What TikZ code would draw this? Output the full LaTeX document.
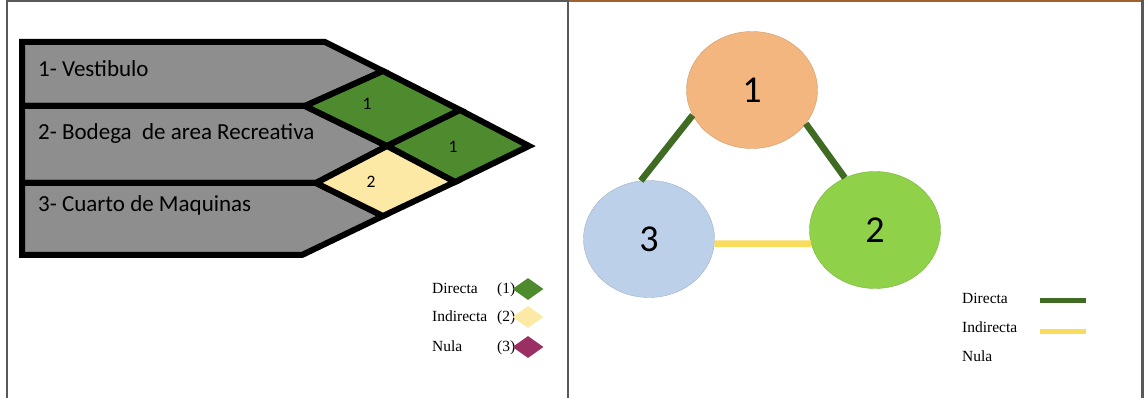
\documentclass[tikz,border=0pt]{standalone}
\usepackage{fontspec}
\setmainfont{Carlito}
\newfontfamily\legfont{Liberation Serif}
\usetikzlibrary{shapes.geometric}
\definecolor{rowgray}{HTML}{8E8E8E}
\definecolor{dgreen}{HTML}{4E8A2E}
\definecolor{lyellow}{HTML}{FDE9A6}
\definecolor{nulpurple}{HTML}{9B2E62}
\definecolor{edgegreen}{HTML}{3F6B22}
\definecolor{edgeyellow}{HTML}{F9DC5C}
\definecolor{corange}{HTML}{F4B67F}
\definecolor{cblue}{HTML}{BDD0EA}
\definecolor{cgreen}{HTML}{8FD24A}
\definecolor{frame}{HTML}{595959}
\definecolor{brownline}{HTML}{A0622A}
\tikzset{
  cell/.style={draw=black, line width=6pt, line join=miter},
  rowtxt/.style={anchor=west, inner sep=0pt, font=\fontsize{23}{26}\selectfont},
  dtxt/.style={inner sep=0pt, font=\fontsize{17.5}{20}\selectfont},
  legtxt/.style={anchor=base west, inner sep=0pt, font=\legfont\fontsize{15.5}{18}\selectfont},
  legdia/.style={diamond, inner sep=0pt, minimum width=31pt, minimum height=22pt, draw=none},
  ball/.style={ellipse, inner sep=0pt, minimum width=131pt, minimum height=117pt, draw=#1!85!black, line width=0.4pt, fill=#1, font=\fontsize{38}{40}\selectfont},
  link/.style={line width=6.5pt},
}
\begin{document}
\begin{tikzpicture}[x=1pt,y=-1pt]
\useasboundingbox (0,0) rectangle (1144,398);
% frames
\draw[frame, line width=2pt] (7,0) -- (7,398);
\draw[frame, line width=2pt] (6,1) -- (568,1);
\draw[frame, line width=2.5pt] (568,0) -- (568,398);
\draw[brownline, line width=2pt] (569,1) -- (1143,1);
\draw[frame, line width=2.5pt] (1142.5,0) -- (1142.5,398);
% left diagram coordinates
\coordinate (A) at (383,71);
\coordinate (L1) at (305,106);
\coordinate (R1) at (460,110);
\coordinate (C) at (387,146);
\coordinate (T) at (529,146);
\coordinate (B) at (455,182);
\coordinate (Y1) at (316,183);
\coordinate (Y3) at (383,216);
% rows
\draw[cell, fill=rowgray] (22,42) -- (325,42) -- (A) -- (L1) -- (22,106) -- cycle;
\draw[cell, fill=rowgray] (22,106) -- (L1) -- (C) -- (Y1) -- (22,183) -- cycle;
\draw[cell, fill=rowgray] (22,183) -- (Y1) -- (Y3) -- (302,255) -- (22,255) -- cycle;
% diamonds
\draw[cell, fill=dgreen] (L1) -- (A) -- (R1) -- (C) -- cycle;
\draw[cell, fill=dgreen] (C) -- (R1) -- (T) -- (B) -- cycle;
\draw[cell, fill=lyellow] (Y1) -- (C) -- (B) -- (Y3) -- cycle;
% texts
\node[rowtxt] (r1) at (38,69) {1- Vestibulo};
\node[rowtxt] (r2) at (38,133) {2- Bodega\ \ de area Recreativa};
\node[rowtxt] (r3) at (38,205) {3- Cuarto de Maquinas};
\node[dtxt] (d1) at (367,104) {1};
\node[dtxt] (d2) at (453,147) {1};
\node[dtxt] (d3) at (371,182) {2};
% left legend
\node[legtxt] (l1) at (432,294) {Directa};
\node[legtxt] (l2) at (432,322) {Indirecta};
\node[legtxt] (l3) at (432,352) {Nula};
\node[legtxt] (n1) at (497,294) {(1)};
\node[legtxt] (n2) at (497,322) {(2)};
\node[legtxt] (n3) at (497,352) {(3)};
\node[legdia, fill=dgreen] (g1) at (528,289) {};
\node[legdia, fill=lyellow] (g2) at (528,317) {};
\node[legdia, fill=nulpurple] (g3) at (528,347) {};
% right diagram
\node[ball=corange] (c1) at (752,90) {1};
\node[ball=cblue] (c3) at (649,239) {3};
\node[ball=cgreen] (c2) at (875,230) {2};
\draw[link, edgegreen] (c1.203) -- (c3.98);
\draw[link, edgegreen] (c1.328) -- (c2.120);
\draw[link, edgeyellow] (c3.356) -- (c2.192);
% right legend
\node[legtxt] (k1) at (962,304) {Directa};
\node[legtxt] (k2) at (962,333) {Indirecta};
\node[legtxt] (k3) at (962,361) {Nula};
\coordinate (k1a) at (1040,301);
\coordinate (k1b) at (1086,301);
\coordinate (k2a) at (1040,331);
\coordinate (k2b) at (1086,331);
\draw[edgegreen, line width=5pt] (k1a) -- (k1b);
\draw[edgeyellow, line width=5pt] (k2a) -- (k2b);
\end{tikzpicture}
\end{document}
